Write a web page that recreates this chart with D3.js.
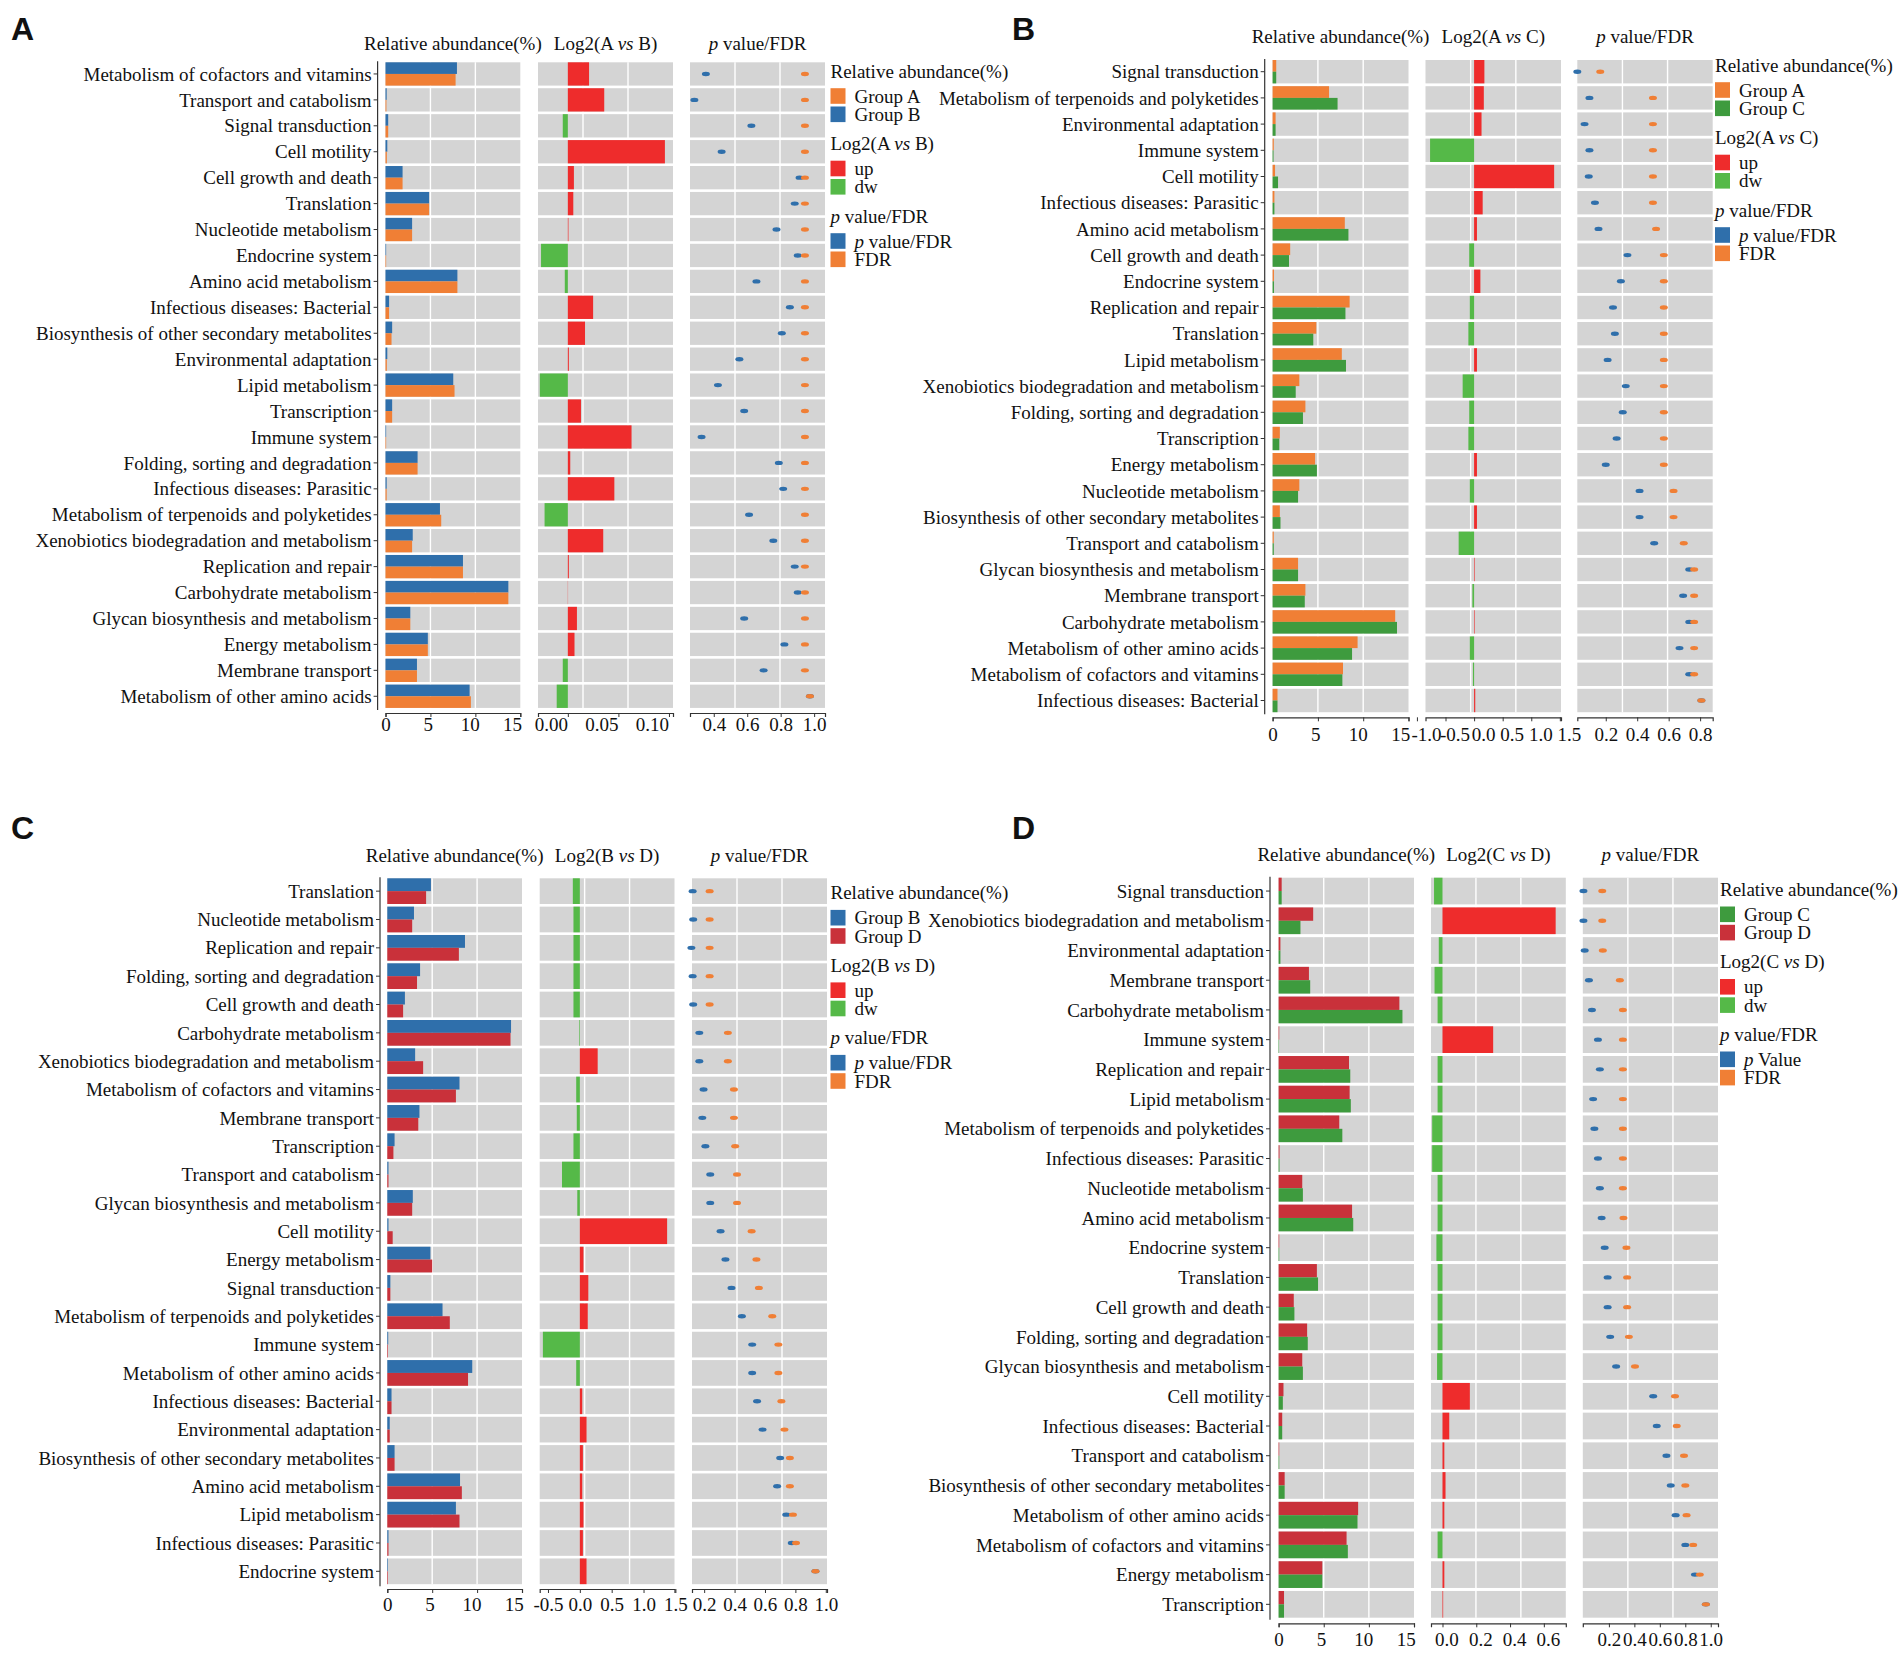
<!DOCTYPE html>
<html>
<head>
<meta charset="utf-8">
<script src="https://cdn.jsdelivr.net/npm/d3@7"></script>
<style>
  body { margin: 0; background: #fff; }
  svg text { font-family: "Liberation Serif", "Times New Roman", serif; fill: #111; }
</style>
</head>
<body>
<svg id="chart" width="1904" height="1654"></svg>
<script>
// ---- Panel A: A vs B ----
const catsA = ["Metabolism of cofactors and vitamins", "Transport and catabolism", "Signal transduction", "Cell motility",
  "Cell growth and death", "Translation", "Nucleotide metabolism", "Endocrine system", "Amino acid metabolism",
  "Infectious diseases: Bacterial", "Biosynthesis of other secondary metabolites", "Environmental adaptation",
  "Lipid metabolism", "Transcription", "Immune system", "Folding, sorting and degradation",
  "Infectious diseases: Parasitic", "Metabolism of terpenoids and polyketides", "Xenobiotics biodegradation and metabolism",
  "Replication and repair", "Carbohydrate metabolism", "Glycan biosynthesis and metabolism", "Energy metabolism",
  "Membrane transport", "Metabolism of other amino acids"];
const abundA_groupB = [7.95, 0.13, 0.3, 0.2, 1.9, 4.85, 2.96, 0.07, 8.0, 0.4, 0.74, 0.2, 7.54, 0.74, 0.07, 3.57, 0.13, 6.06, 3.03, 8.62, 13.67, 2.76, 4.71, 3.5, 9.36];
const abundA_groupA = [7.8, 0.1, 0.3, 0.15, 1.9, 4.85, 2.96, 0.07, 8.0, 0.4, 0.67, 0.15, 7.68, 0.74, 0.07, 3.57, 0.13, 6.2, 2.96, 8.62, 13.67, 2.76, 4.71, 3.5, 9.5];
const log2A = [0.021, 0.036, -0.005, 0.096, 0.006, 0.0054, 0.0006, -0.0265, -0.003, 0.025, 0.017, 0.001, -0.0277, 0.013, 0.063, 0.0024, 0.046, -0.023, 0.035, 0.001, 0.0002, 0.009, 0.0066, -0.005, -0.011];
const pA = [0.353, 0.284, 0.625, 0.447, 0.913, 0.884, 0.775, 0.902, 0.655, 0.855, 0.807, 0.553, 0.425, 0.582, 0.327, 0.789, 0.815, 0.611, 0.756, 0.884, 0.902, 0.582, 0.822, 0.698, 0.975];
const fdrA = [0.945, 0.945, 0.945, 0.945, 0.945, 0.945, 0.945, 0.945, 0.945, 0.945, 0.945, 0.945, 0.945, 0.945, 0.945, 0.945, 0.945, 0.945, 0.945, 0.945, 0.945, 0.945, 0.945, 0.945, 0.975];

// ---- Panel B: A vs C ----
const catsB = ["Signal transduction", "Metabolism of terpenoids and polyketides", "Environmental adaptation", "Immune system",
  "Cell motility", "Infectious diseases: Parasitic", "Amino acid metabolism", "Cell growth and death", "Endocrine system",
  "Replication and repair", "Translation", "Lipid metabolism", "Xenobiotics biodegradation and metabolism",
  "Folding, sorting and degradation", "Transcription", "Energy metabolism", "Nucleotide metabolism",
  "Biosynthesis of other secondary metabolites", "Transport and catabolism", "Glycan biosynthesis and metabolism",
  "Membrane transport", "Carbohydrate metabolism", "Metabolism of other amino acids",
  "Metabolism of cofactors and vitamins", "Infectious diseases: Bacterial"];
const abundB_groupA = [0.4, 6.23, 0.33, 0.13, 0.27, 0.2, 7.97, 1.94, 0.15, 8.5, 4.82, 7.64, 2.95, 3.62, 0.8, 4.69, 2.95, 0.8, 0.13, 2.81, 3.62, 13.53, 9.38, 7.77, 0.54];
const abundB_groupC = [0.4, 7.17, 0.33, 0.1, 0.6, 0.2, 8.37, 1.81, 0.15, 8.04, 4.49, 8.1, 2.55, 3.35, 0.74, 4.89, 2.81, 0.87, 0.13, 2.81, 3.55, 13.73, 8.77, 7.7, 0.54];
const log2B = [0.18, 0.17, 0.13, -0.77, 1.40, 0.15, 0.05, -0.085, 0.11, -0.075, -0.1, 0.05, -0.2, -0.085, -0.1, 0.05, -0.075, 0.05, -0.27, 0.01, -0.03, 0.01, -0.075, -0.02, 0.02];
const pB = [0.019, 0.096, 0.065, 0.096, 0.092, 0.131, 0.154, 0.338, 0.296, 0.246, 0.258, 0.212, 0.327, 0.308, 0.269, 0.2, 0.415, 0.415, 0.508, 0.731, 0.692, 0.731, 0.669, 0.731, 0.808];
const fdrB = [0.165, 0.5, 0.5, 0.5, 0.5, 0.5, 0.52, 0.569, 0.569, 0.569, 0.569, 0.569, 0.569, 0.569, 0.569, 0.569, 0.631, 0.631, 0.696, 0.762, 0.762, 0.762, 0.762, 0.762, 0.808];

// ---- Panel C: B vs D ----
const catsC = ["Translation", "Nucleotide metabolism", "Replication and repair", "Folding, sorting and degradation",
  "Cell growth and death", "Carbohydrate metabolism", "Xenobiotics biodegradation and metabolism",
  "Metabolism of cofactors and vitamins", "Membrane transport", "Transcription", "Transport and catabolism",
  "Glycan biosynthesis and metabolism", "Cell motility", "Energy metabolism", "Signal transduction",
  "Metabolism of terpenoids and polyketides", "Immune system", "Metabolism of other amino acids",
  "Infectious diseases: Bacterial", "Environmental adaptation", "Biosynthesis of other secondary metabolites",
  "Amino acid metabolism", "Lipid metabolism", "Infectious diseases: Parasitic", "Endocrine system"];
const abundC_groupB = [4.86, 2.97, 8.65, 3.65, 1.96, 13.78, 3.1, 8.04, 3.58, 0.81, 0.13, 2.84, 0.13, 4.8, 0.34, 6.15, 0.1, 9.46, 0.47, 0.27, 0.81, 8.1, 7.64, 0.13, 0.07];
const abundC_groupD = [4.32, 2.77, 7.97, 3.31, 1.76, 13.72, 3.99, 7.64, 3.45, 0.68, 0.13, 2.77, 0.6, 5.0, 0.34, 6.96, 0.07, 8.99, 0.47, 0.27, 0.81, 8.3, 8.04, 0.13, 0.07];
const log2C = [-0.11, -0.1, -0.1, -0.1, -0.1, -0.01, 0.28, -0.057, -0.048, -0.1, -0.28, -0.04, 1.37, 0.057, 0.133, 0.124, -0.58, -0.057, 0.038, 0.105, 0.048, 0.038, 0.057, 0.048, 0.105];
const pC = [0.124, 0.128, 0.116, 0.124, 0.128, 0.168, 0.168, 0.196, 0.188, 0.208, 0.24, 0.24, 0.308, 0.34, 0.38, 0.448, 0.516, 0.516, 0.548, 0.584, 0.7, 0.68, 0.74, 0.776, 0.932];
const fdrC = [0.236, 0.236, 0.236, 0.236, 0.236, 0.356, 0.356, 0.396, 0.396, 0.404, 0.416, 0.416, 0.512, 0.544, 0.56, 0.648, 0.688, 0.688, 0.708, 0.728, 0.764, 0.764, 0.784, 0.804, 0.932];

// ---- Panel D: C vs D ----
const catsD = ["Signal transduction", "Xenobiotics biodegradation and metabolism", "Environmental adaptation",
  "Membrane transport", "Carbohydrate metabolism", "Immune system", "Replication and repair", "Lipid metabolism",
  "Metabolism of terpenoids and polyketides", "Infectious diseases: Parasitic", "Nucleotide metabolism",
  "Amino acid metabolism", "Endocrine system", "Translation", "Cell growth and death",
  "Folding, sorting and degradation", "Glycan biosynthesis and metabolism", "Cell motility",
  "Infectious diseases: Bacterial", "Transport and catabolism", "Biosynthesis of other secondary metabolites",
  "Metabolism of other amino acids", "Metabolism of cofactors and vitamins", "Energy metabolism", "Transcription"];
const abundD_groupD = [0.34, 3.83, 0.2, 3.36, 13.38, 0.07, 7.8, 7.87, 6.72, 0.1, 2.62, 8.14, 0.07, 4.24, 1.68, 3.16, 2.62, 0.54, 0.4, 0.07, 0.67, 8.81, 7.53, 4.84, 0.6];
const abundD_groupC = [0.34, 2.42, 0.2, 3.5, 13.72, 0.05, 7.94, 8.0, 7.06, 0.1, 2.69, 8.27, 0.07, 4.37, 1.75, 3.23, 2.69, 0.47, 0.4, 0.07, 0.67, 8.74, 7.67, 4.84, 0.6];
const log2D = [-0.05, 0.67, -0.022, -0.047, -0.029, 0.3, -0.029, -0.029, -0.061, -0.061, -0.029, -0.029, -0.036, -0.029, -0.029, -0.029, -0.032, 0.162, 0.04, 0.011, 0.018, 0.011, -0.029, 0.011, 0.004];
const pD = [0.0, 0.0, 0.01, 0.043, 0.067, 0.114, 0.129, 0.076, 0.086, 0.114, 0.129, 0.143, 0.167, 0.19, 0.19, 0.21, 0.257, 0.548, 0.576, 0.652, 0.686, 0.724, 0.8, 0.876, 0.962];
const fdrD = [0.148, 0.148, 0.152, 0.286, 0.31, 0.31, 0.31, 0.31, 0.31, 0.31, 0.31, 0.314, 0.338, 0.343, 0.343, 0.357, 0.405, 0.719, 0.733, 0.79, 0.8, 0.81, 0.862, 0.914, 0.962];

// ---- tick labels ----
const abundTicks = [0, 5, 10, 15];
const log2TicksA = [0, 0.05, 0.10];
const log2TicksB = [-1.0, -0.5, 0, 0.5, 1.0, 1.5];
const log2TicksC = [-0.5, 0, 0.5, 1.0, 1.5];
const log2TicksD = [0, 0.2, 0.4, 0.6];
const pTicksA = [0.4, 0.6, 0.8, 1.0];
const pTicksB = [0.2, 0.4, 0.6, 0.8];
const pTicksC = [0.2, 0.4, 0.6, 0.8, 1.0];
const pTicksD = [0.2, 0.4, 0.6, 0.8, 1.0];

const BLUE = "#2f6fab", ORANGE = "#f07f35", GREEN = "#3e9b3e", RED = "#c9313a";
const UP = "#ee2c2c", DW = "#55b948", BAND = "#d4d4d4", INK = "#333";

const panels = [
  { letter: "A", letterX: 11, letterY: 28, cats: catsA,
    top: { values: abundA_groupB, color: BLUE }, bottom: { values: abundA_groupA, color: ORANGE },
    groups: [["Group A", ORANGE], ["Group B", BLUE]], cmp: ["A", "B"], pItem: "value/FDR",
    log2: log2A, p: pA, fdr: fdrA, log2Ticks: log2TicksA, log2Dec: 2, pTicks: pTicksA,
    axisX: 377.6, abundRange: [385.5, 520.3], log2Range: [538, 673], pRange: [690, 825],
    log2Domain: [-0.0295, 0.104], pDomain: [0.258, 1.065],
    top0: 62.3, pitch: 25.93, band: 23.3, axisY: 713, tickPad: 1, log2Shift: -17,
    headerY: 43.3, legendX: 830.5, legendY: 71 },
  { letter: "B", letterX: 1012, letterY: 28, cats: catsB,
    top: { values: abundB_groupA, color: ORANGE }, bottom: { values: abundB_groupC, color: GREEN },
    groups: [["Group A", ORANGE], ["Group C", GREEN]], cmp: ["A", "C"], pItem: "value/FDR",
    log2: log2B, p: pB, fdr: fdrB, log2Ticks: log2TicksB, log2Dec: 1, pTicks: pTicksB,
    axisX: 1264.7, abundRange: [1272.6, 1408.5], log2Range: [1425.5, 1561], pRange: [1577.3, 1712.7],
    log2Domain: [-0.85, 1.52], pDomain: [0.019, 0.88],
    top0: 60, pitch: 26.2, band: 23.4, axisY: 717.3, tickPad: 6, log2Shift: 9,
    headerY: 36.7, legendX: 1715, legendY: 65 },
  { letter: "C", letterX: 11, letterY: 827, cats: catsC,
    top: { values: abundC_groupB, color: BLUE }, bottom: { values: abundC_groupD, color: RED },
    groups: [["Group B", BLUE], ["Group D", RED]], cmp: ["B", "D"], pItem: "value/FDR",
    log2: log2C, p: pC, fdr: fdrC, log2Ticks: log2TicksC, log2Dec: 1, pTicks: pTicksC,
    axisX: 380, abundRange: [387.3, 522], log2Range: [539.7, 674.5], pRange: [692, 827],
    log2Domain: [-0.63, 1.486], pDomain: [0.12, 1.008],
    top0: 878.3, pitch: 28.34, band: 25.7, axisY: 1589, tickPad: 4.5, log2Shift: 0,
    headerY: 855, legendX: 830.5, legendY: 892.7 },
  { letter: "D", letterX: 1012, letterY: 827, cats: catsD,
    top: { values: abundD_groupD, color: RED }, bottom: { values: abundD_groupC, color: GREEN },
    groups: [["Group C", GREEN], ["Group D", RED]], cmp: ["C", "D"], pItem: "Value",
    log2: log2D, p: pD, fdr: fdrD, log2Ticks: log2TicksD, log2Dec: 1, pTicks: pTicksD,
    axisX: 1270, abundRange: [1278.6, 1414], log2Range: [1431, 1565.8], pRange: [1582.8, 1718],
    log2Domain: [-0.068, 0.73], pDomain: [-0.005, 1.057],
    top0: 877.7, pitch: 29.72, band: 26.7, axisY: 1623.3, tickPad: 5.5, log2Shift: 4,
    headerY: 854, legendX: 1720, legendY: 889.3 }
];

const svg = d3.select("#chart");
svg.append("rect").attr("width", 1904).attr("height", 1654).attr("fill", "#fff");

// text made of plain and italic pieces
function rich(sel, parts) {
  parts.forEach(([t, it]) => {
    sel.append("tspan").text(t).attr("font-style", it ? "italic" : null);
  });
}

function log2Title(cmp) {
  return [["Log2(" + cmp[0] + " ", false], ["vs", true], [" " + cmp[1] + ")", false]];
}

function drawPanel(cfg) {
  const g = svg.append("g");
  const n = cfg.cats.length;
  const gap = cfg.pitch - cfg.band;

  const y = d3.scaleBand()
    .domain(cfg.cats)
    .range([cfg.top0, cfg.top0 + n * cfg.pitch - gap])
    .paddingInner(gap / cfg.pitch)
    .paddingOuter(0);
  const bw = y.bandwidth();

  const xa = d3.scaleLinear().domain([0, 15]).range(cfg.abundRange);
  const xl = d3.scaleLinear().domain(cfg.log2Domain).range(cfg.log2Range);
  const xp = d3.scaleLinear().domain(cfg.pDomain).range(cfg.pRange);

  // grey row bands + white grid lines for each of the three sub-panels
  [xa, xl, xp].forEach(sc => {
    const [r0, r1] = sc.range();
    g.append("g").selectAll("rect")
      .data(cfg.cats)
      .enter()
      .append("rect")
      .attr("x", r0)
      .attr("y", d => y(d))
      .attr("width", r1 - r0)
      .attr("height", bw)
      .attr("fill", BAND);
    [1 / 3, 2 / 3].forEach(f => {
      g.append("line")
        .attr("x1", r0 + (r1 - r0) * f).attr("x2", r0 + (r1 - r0) * f)
        .attr("y1", y.range()[0]).attr("y2", y.range()[1])
        .attr("stroke", "#fff").attr("stroke-width", 1.4);
    });
  });

  // relative abundance: two half-height bars per row
  g.append("g").selectAll("rect")
    .data(cfg.cats)
    .enter()
    .append("rect")
    .attr("x", xa(0))
    .attr("y", d => y(d))
    .attr("width", (d, i) => xa(cfg.top.values[i]) - xa(0))
    .attr("height", bw / 2)
    .attr("fill", cfg.top.color);
  g.append("g").selectAll("rect")
    .data(cfg.cats)
    .enter()
    .append("rect")
    .attr("x", xa(0))
    .attr("y", d => y(d) + bw / 2)
    .attr("width", (d, i) => xa(cfg.bottom.values[i]) - xa(0))
    .attr("height", bw / 2)
    .attr("fill", cfg.bottom.color);

  // log2 fold change
  g.append("g").selectAll("rect")
    .data(cfg.cats)
    .enter()
    .append("rect")
    .attr("x", (d, i) => xl(Math.min(0, cfg.log2[i])))
    .attr("y", d => y(d))
    .attr("width", (d, i) => Math.abs(xl(cfg.log2[i]) - xl(0)))
    .attr("height", bw)
    .attr("fill", (d, i) => cfg.log2[i] >= 0 ? UP : DW);

  // p value then FDR dots
  [[cfg.p, BLUE], [cfg.fdr, ORANGE]].forEach(([vals, col]) => {
    g.append("g").selectAll("ellipse")
      .data(cfg.cats)
      .enter()
      .append("ellipse")
      .attr("cx", (d, i) => xp(vals[i]))
      .attr("cy", d => y(d) + bw / 2)
      .attr("rx", 4)
      .attr("ry", 2.2)
      .attr("fill", col);
  });

  // y axis with category labels
  g.append("line")
    .attr("x1", cfg.axisX).attr("x2", cfg.axisX)
    .attr("y1", y.range()[0] - 1).attr("y2", y.range()[1] + 2)
    .attr("stroke", INK).attr("stroke-width", 1.2);
  const yl = g.append("g").selectAll("g")
    .data(cfg.cats)
    .enter()
    .append("g")
    .attr("transform", d => `translate(0,${y(d) + bw / 2})`);
  yl.append("line")
    .attr("x1", cfg.axisX - 4).attr("x2", cfg.axisX)
    .attr("stroke", INK).attr("stroke-width", 1);
  yl.append("text")
    .attr("x", cfg.axisX - 6)
    .attr("dy", "0.35em")
    .attr("text-anchor", "end")
    .attr("font-size", 19)
    .text(d => d);

  // bottom axes (abundance labels sit a little left of their ticks in the original)
  const axes = [
    [xa, abundTicks, d => d3.format("d")(d), d => -d * 0.55],
    [xl, cfg.log2Ticks, d => d.toFixed(cfg.log2Dec), () => cfg.log2Shift],
    [xp, cfg.pTicks, d => d.toFixed(1), () => 0]
  ];
  axes.forEach(([sc, ticks, fmt, shift]) => {
    const ax = g.append("g")
      .attr("transform", `translate(0,${cfg.axisY})`)
      .call(d3.axisBottom(sc).tickValues(ticks).tickFormat(fmt)
        .tickSize(4).tickSizeOuter(4).tickPadding(cfg.tickPad));
    ax.select(".domain").attr("stroke", INK).attr("stroke-width", 1.2);
    ax.selectAll(".tick line").attr("stroke", INK);
    ax.selectAll(".tick text")
      .attr("font-size", 19)
      .attr("font-family", "Liberation Serif, Times New Roman, serif")
      .attr("fill", "#111")
      .attr("dx", d => shift(d));
  });

  // column headers
  const mid = sc => (sc.range()[0] + sc.range()[1]) / 2;
  const headers = [
    [xa, [["Relative abundance(%)", false]]],
    [xl, log2Title(cfg.cmp)],
    [xp, [["p", true], [" value/FDR", false]]]
  ];
  headers.forEach(([sc, parts]) => {
    const t = g.append("text")
      .attr("x", mid(sc))
      .attr("y", cfg.headerY)
      .attr("dy", "0.35em")
      .attr("text-anchor", "middle")
      .attr("font-size", 19);
    rich(t, parts);
  });

  // panel letter
  g.append("text")
    .attr("x", cfg.letterX)
    .attr("y", cfg.letterY)
    .attr("dy", "0.36em")
    .attr("font-weight", "bold")
    .attr("font-size", 32)
    .style("font-family", "'Liberation Sans', Arial, sans-serif")
    .text(cfg.letter);

  // legend
  const blocks = [
    { title: [["Relative abundance(%)", false]], items: cfg.groups.map(([name, col]) => [[[name, false]], col]) },
    { title: log2Title(cfg.cmp), items: [[[["up", false]], UP], [[["dw", false]], DW]] },
    { title: [["p", true], [" value/FDR", false]],
      items: [[[["p", true], [" " + cfg.pItem, false]], BLUE], [[["FDR", false]], ORANGE]] }
  ];
  const lg = g.append("g");
  blocks.forEach((b, bi) => {
    const ty = cfg.legendY + bi * 72.5;
    const t = lg.append("text")
      .attr("x", cfg.legendX)
      .attr("y", ty)
      .attr("dy", "0.35em")
      .attr("font-size", 19);
    rich(t, b.title);
    b.items.forEach(([parts, col], ii) => {
      const iy = ty + 25 + ii * 18.3;
      lg.append("rect")
        .attr("x", cfg.legendX)
        .attr("y", iy - 7.8)
        .attr("width", 15)
        .attr("height", 15.6)
        .attr("fill", col);
      const it = lg.append("text")
        .attr("x", cfg.legendX + 24)
        .attr("y", iy)
        .attr("dy", "0.35em")
        .attr("font-size", 19);
      rich(it, parts);
    });
  });
}

panels.forEach(drawPanel);
</script>
</body>
</html>
